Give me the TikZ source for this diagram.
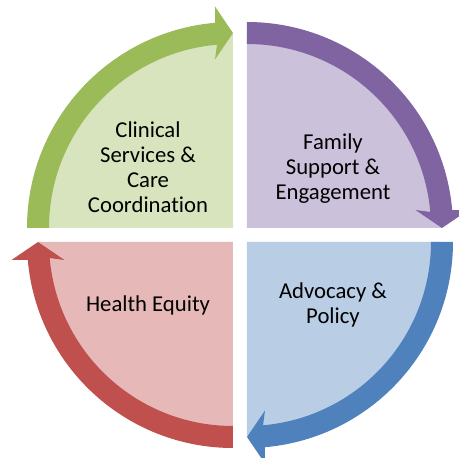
\documentclass[tikz,border=0pt]{standalone}
\usepackage{fontspec}
\setmainfont{Carlito}[Ligatures=NoCommon]
\usepackage{tikz}
\usetikzlibrary{positioning}
\definecolor{leaf}     {HTML}{9BBB59}
\definecolor{leafpale} {HTML}{D7E4BD}
\definecolor{plum}     {HTML}{8064A2}
\definecolor{plumpale} {HTML}{CCC1DA}
\definecolor{sky}      {HTML}{4F81BD}
\definecolor{skypale}  {HTML}{B9CDE5}
\definecolor{brick}    {HTML}{C0504D}
\definecolor{brickpale}{HTML}{E6B9B8}
\tikzset{
  % --- quadrant text
  lbl/.style = {align=center, text=black, inner sep=0pt,
                font=\fontsize{22.7}{25}\selectfont},
}

\begin{document}
\begin{tikzpicture}[x=1pt,y=1pt]
  \useasboundingbox (-240,-223) rectangle (219,235);
  % one quarter per loop step, turned clockwise around the gap
  \foreach \rot/\band/\pale in {0/leaf/leafpale, -90/plum/plumpale,
                                -180/sky/skypale, -270/brick/brickpale}{
    \begin{scope}[rotate=\rot, shift={(-7,7)}]
      \fill[\pale] (0,0) -- (180:195) arc[start angle=180, end angle=90, radius=195] -- cycle;
      \fill[\band] (180:206) arc[start angle=180, end angle=95, radius=206]
        -- (-18,221.5) -- (0,195) -- (-18,168.5)
        -- (95:184) arc[start angle=95, end angle=180, radius=184] -- cycle;
    \end{scope}
  }

  \node[lbl] (clinical) at (-92,68) {Clinical\\Services \&\\Care\\Coordination};
  \node[lbl] (family) at (93,66.5) {Family\\Support \&\\Engagement};
  \node[lbl] (equity) at (-92,-70) {Health Equity};
  \node[lbl] (advocacy) at (93,-70) {Advocacy \&\\Policy};
\end{tikzpicture}
\end{document}
